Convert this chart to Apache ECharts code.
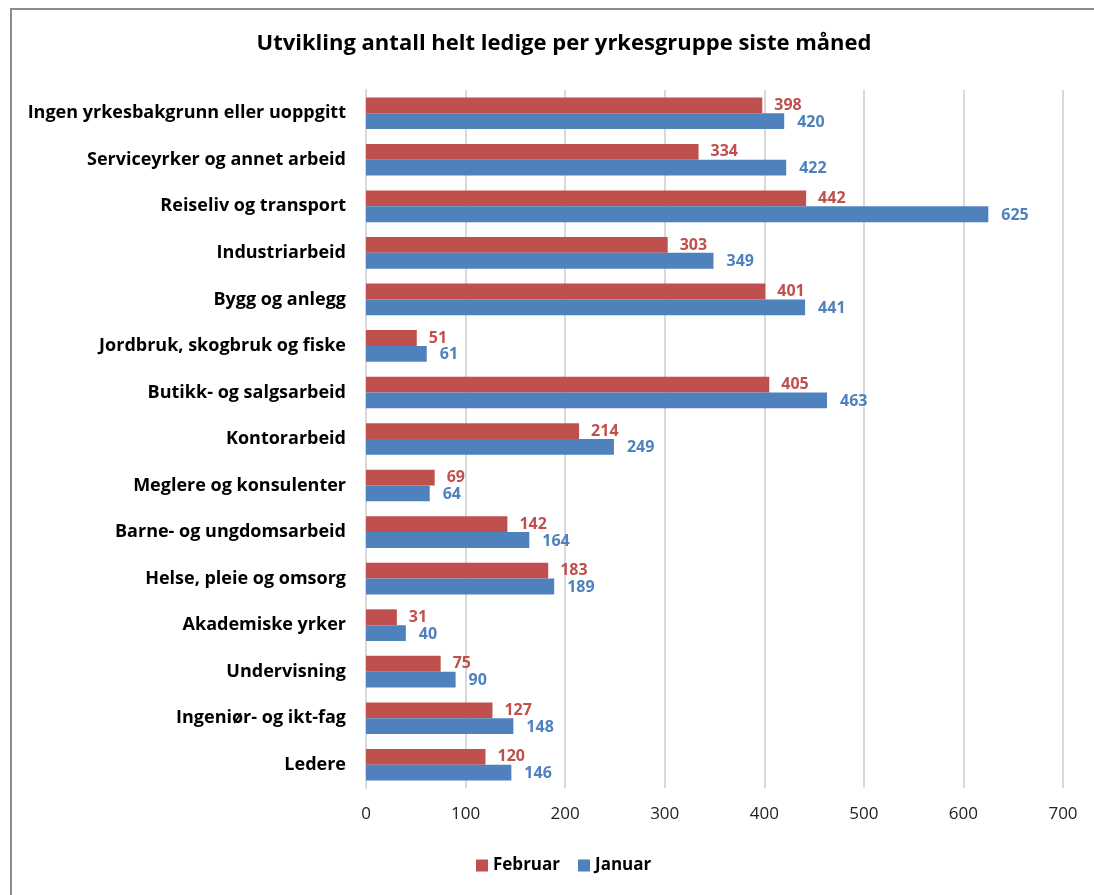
<!DOCTYPE html>
<html>
<head>
<meta charset="utf-8">
<script src="https://cdn.jsdelivr.net/npm/echarts@6/dist/echarts.min.js"></script>
<style>
html,body{margin:0;padding:0;background:#fff;}
#chart{width:1094px;height:895px;}
</style>
</head>
<body>
<div id="chart"></div>
<script>
const titleText = 'Utvikling antall helt ledige per yrkesgruppe siste måned';
const categories = [
  'Ingen yrkesbakgrunn eller uoppgitt',
  'Serviceyrker og annet arbeid',
  'Reiseliv og transport',
  'Industriarbeid',
  'Bygg og anlegg',
  'Jordbruk, skogbruk og fiske',
  'Butikk- og salgsarbeid',
  'Kontorarbeid',
  'Meglere og konsulenter',
  'Barne- og ungdomsarbeid',
  'Helse, pleie og omsorg',
  'Akademiske yrker',
  'Undervisning',
  'Ingeniør- og ikt-fag',
  'Ledere'
];
const februar = [398, 334, 442, 303, 401, 51, 405, 214, 69, 142, 183, 31, 75, 127, 120];
const januar = [420, 422, 625, 349, 441, 61, 463, 249, 64, 164, 189, 40, 90, 148, 146];
const seriesNames = ['Februar', 'Januar'];
const colors = ['#C0504D', '#4F81BD'];

const FONT = 'Open Sans';
const chart = echarts.init(document.getElementById('chart'));
chart.setOption({
  animation: false,
  color: colors,
  title: {
    text: titleText,
    left: 559, top: 28, textAlign: 'center',
    textStyle: {fontFamily: FONT, fontSize: 22, fontWeight: 'bold', color: '#000'}
  },
  legend: {
    data: seriesNames,
    left: 471, top: 852,
    itemWidth: 12, itemHeight: 12, itemGap: 18,
    icon: 'rect',
    textStyle: {fontFamily: FONT, fontSize: 17, fontWeight: 'bold', color: '#000'}
  },
  graphic: [{
    type: 'rect', shape: {x: 11, y: 9, width: 2000, height: 2000},
    style: {fill: 'none', stroke: '#8c8c8c', lineWidth: 2}, silent: true
  }],
  grid: {left: 366, right: 31, top: 90, bottom: 107, containLabel: false},
  xAxis: {
    type: 'value', min: 0, max: 700, interval: 100,
    axisLine: {show: false}, axisTick: {show: false},
    splitLine: {lineStyle: {color: '#d9d9d9', width: 2}},
    axisLabel: {fontFamily: FONT, fontSize: 17, color: '#222', margin: 18}
  },
  yAxis: {
    type: 'category', data: categories, inverse: true,
    axisLine: {lineStyle: {color: '#d9d9d9', width: 2}},
    axisTick: {show: false},
    axisLabel: {fontFamily: FONT, fontSize: 18, fontWeight: 'bold', color: '#000', margin: 20}
  },
  series: [
    {name: seriesNames[0], type: 'bar', data: februar, barGap: '0%', barCategoryGap: '32%',
     label: {show: true, position: 'right', distance: 12, color: colors[0], fontFamily: FONT, fontSize: 16, fontWeight: 'bold'}},
    {name: seriesNames[1], type: 'bar', data: januar, barGap: '0%', barCategoryGap: '32%',
     label: {show: true, position: 'right', distance: 13, color: colors[1], fontFamily: FONT, fontSize: 16, fontWeight: 'bold', offset: [0, 1]}}
  ]
});
</script>
</body>
</html>
